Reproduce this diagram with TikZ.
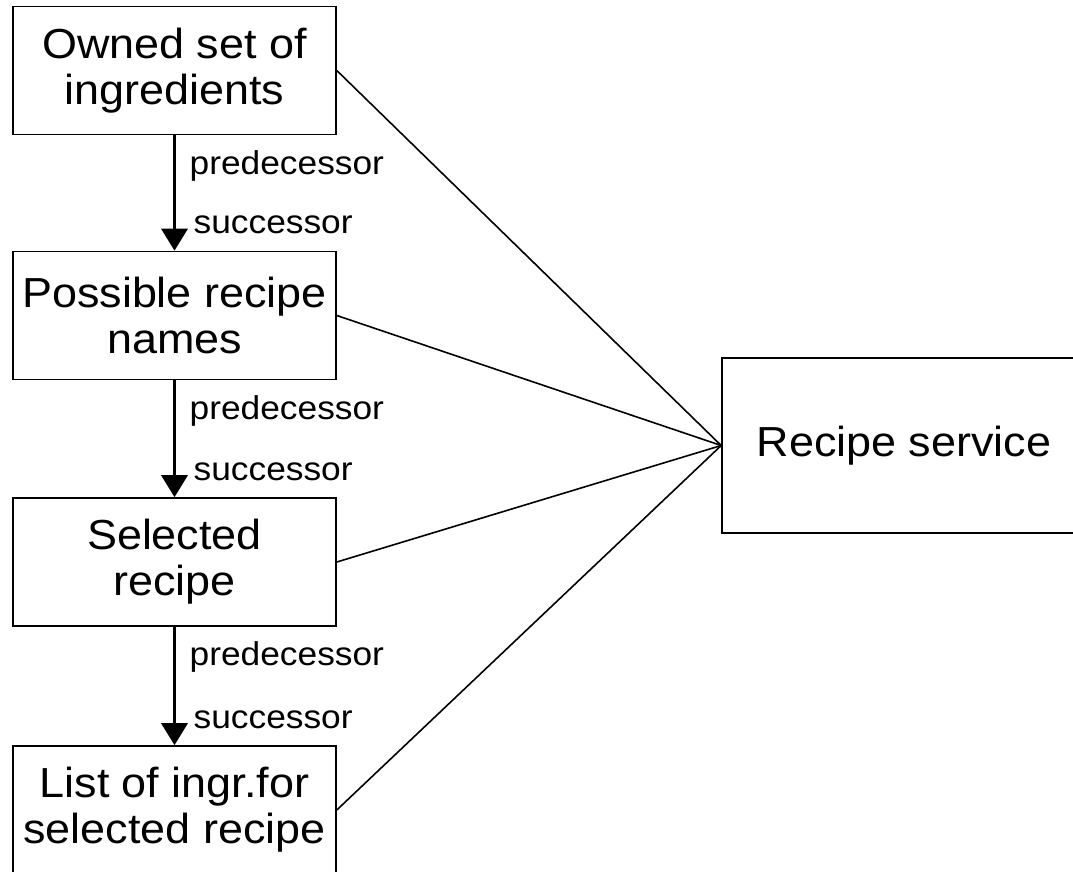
\documentclass[tikz,border=0pt]{standalone}
\usepackage{fontspec}
\setmainfont{Liberation Sans}[FakeStretch=1.07]
\usetikzlibrary{arrows.meta,calc}
\begin{document}
\begin{tikzpicture}[x=1pt,y=-1pt,
  stage/.style={draw,line width=1.6pt,minimum width=323pt,minimum height=128pt,
    inner sep=0pt,align=center,font=\fontsize{42}{46}\selectfont},
  service/.style={draw,line width=1.6pt,minimum width=364pt,minimum height=175pt,
    inner sep=0pt,align=center,font=\fontsize{42}{46}\selectfont},
  flow/.style={line width=3.5pt,-{Triangle[width=26pt,length=22pt]}},
  link/.style={line width=1.6pt},
  role/.style={anchor=base west,inner sep=0pt,font=\fontsize{33}{36}\selectfont}]
\useasboundingbox (0,0) rectangle (1073,871);

% the four stages of the recipe selection
\node[stage] (own) at (174.5,70.5) {Owned set of\\ingredients};
\node[stage] (names) at (174.5,315.5) {Possible recipe\\names};
\node[stage] (sel) at (174.5,562) {Selected\\recipe};
\node[stage] (list) at (174.5,810) {List of ingr.for\\selected recipe};

% the service all stages talk to
\node[service] (svc) at (904,445.5) {Recipe service};

% predecessor / successor chain
\foreach \a/\b in {own/names,names/sel,sel/list}{
  \draw[flow] (\a.south) -- (\b.north);
  \node[role] at ($(\a.south)+(15,39)$) {predecessor};
  \node[role] at ($(\b.north)+(19,-17)$) {successor};
}

% links to the service
\foreach \a in {own,names,sel,list}
  \draw[link] (\a.east) -- (svc.west);
\end{tikzpicture}
\end{document}
